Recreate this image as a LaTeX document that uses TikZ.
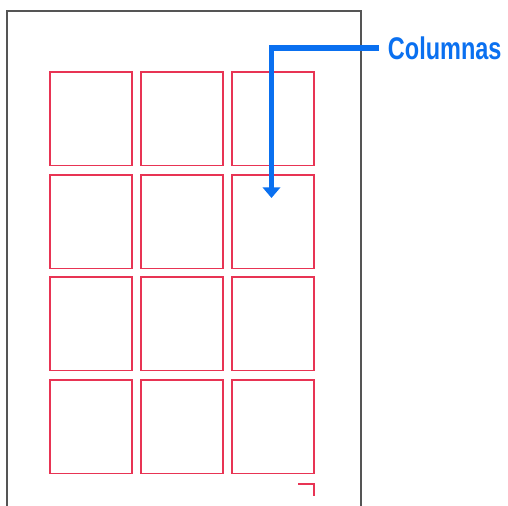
\documentclass[tikz,border=0pt]{standalone}
\usepackage{fontspec}
\setsansfont{Liberation Sans}
\usetikzlibrary{arrows.meta}
\definecolor{gridred}{RGB}{232,52,84}
\definecolor{callblue}{RGB}{10,112,240}
\definecolor{pagegray}{RGB}{85,85,85}

\begin{document}
\begin{tikzpicture}[x=0.75pt,y=-0.75pt,
    page/.style={draw=pagegray, line width=1.1pt},
    cell/.style={draw=gridred, line width=1.1pt},
    callout/.style={draw=callblue, line width=3.9pt, -{Triangle[width=13pt,length=8pt]}},
    tag/.style={text=callblue, font=\sffamily\bfseries\fontsize{23.5pt}{25pt}\selectfont, inner xsep=6.5pt, inner ysep=0pt}]
    \useasboundingbox (0,0) rectangle (508,506);
    % page outline
    \draw[page] (7,520) -- (7,11) -- (361,11) -- (361,520);
    % grid of cells
    \foreach \cx in {50,141,232}
        \foreach \cy in {72,175,277,380}
            \draw[cell] (\cx,\cy) rectangle ++(82,93.5);
    \draw[cell] (298,484) -- (314,484) -- (314,496);
    % callout
    \node[tag, anchor=west] (cols) at (379,48) {\scalebox{0.75}[1]{Columnas}};
    \coordinate (tip) at (271.5,198);
    \draw[callout] (cols.west) -- (tip |- cols.west) -- (tip);
\end{tikzpicture}
\end{document}
